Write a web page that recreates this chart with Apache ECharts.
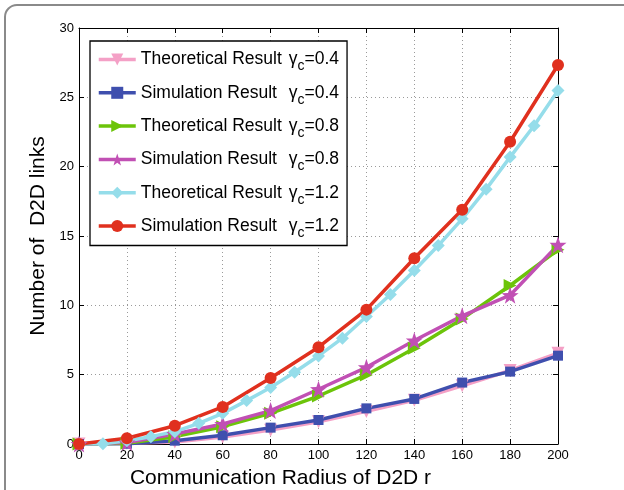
<!DOCTYPE html>
<html>
<head>
<meta charset="utf-8">
<script src="https://cdn.jsdelivr.net/npm/echarts@6/dist/echarts.min.js"></script>
<style>html,body{margin:0;padding:0;background:#fff}#c{width:624px;height:490px}</style>
</head>
<body>
<div id="c"></div>
<script>
const r20 = [0,20,40,60,80,100,120,140,160,180,200];
const r10 = [0,10,20,30,40,50,60,70,80,90,100,110,120,130,140,150,160,170,180,190,200];
const theo04 = [0,0.05,0.15,0.5,1.0,1.6,2.35,3.15,4.2,5.3,6.55];
const sim04 = [0,0.02,0.24,0.63,1.18,1.73,2.57,3.25,4.43,5.22,6.37];
const theo08 = [0,0.05,0.53,1.25,2.21,3.46,4.98,6.9,9.02,11.43,14.0];
const sim08 = [0,0.1,0.72,1.44,2.41,3.95,5.53,7.46,9.24,10.73,14.36];
const theo12 = [0,0.02,0.24,0.53,0.89,1.49,2.21,3.13,4.07,5.17,6.35,7.63,9.19,10.78,12.51,14.31,16.24,18.38,20.69,22.95,25.5];
const sim12 = [0,0.41,1.32,2.67,4.76,6.98,9.69,13.4,16.89,21.8,27.33];
const seriesNames = ['Theoretical Result|0.4','Simulation Result|0.4','Theoretical Result|0.8','Simulation Result|0.8','Theoretical Result|1.2','Simulation Result|1.2'];

const STAR = 'path://M0,-10 L2.35,-3.24 L9.51,-3.09 L3.8,1.24 L5.88,8.09 L0,4 L-5.88,8.09 L-3.8,1.24 L-9.51,-3.09 L-2.35,-3.24 Z';
const pair = (xs, ys) => xs.map((x, i) => [x, ys[i]]);
const font = 'Liberation Sans, Arial, sans-serif';

function mk(name, xs, ys, color, symbol, size, rot) {
  return {
    name, type: 'line', data: pair(xs, ys), xAxisIndex: 0, yAxisIndex: 0,
    symbol, symbolSize: size, symbolRotate: rot || 0, showAllSymbol: true,
    lineStyle: { color, width: 3.5 }, itemStyle: { color, borderWidth: 0 },
    emphasis: { disabled: true }, animation: false, z: 3
  };
}

const chart = echarts.init(document.getElementById('c'), null, { renderer: 'canvas' });
const option = {
  animation: false,
  textStyle: { fontFamily: font },
  grid: { left: 79, right: 66, top: 28, bottom: 46, containLabel: false, outerBoundsMode: 'none' },
  graphic: [{
    type: 'rect', shape: { x: 5, y: 5, width: 700, height: 600, r: 12 },
    style: { fill: 'none', stroke: '#8a8a8a', lineWidth: 2 }, silent: true
  }],
  legend: {
    orient: 'vertical', left: 90, top: 41,
    backgroundColor: '#fff', borderColor: '#000', borderWidth: 1.3,
    padding: [9.5, 8, 5.5, 7], itemGap: 10.3, itemWidth: 37, itemHeight: 15,
    lineStyle: { width: 3.5 },
    data: seriesNames,
    formatter: function (n) {
      const p = n.split('|');
      return '{a|' + p[0] + '}{g|γ}{s|c}{g|=' + p[1] + '}';
    },
    textStyle: {
      fontFamily: font, color: '#000',
      rich: {
        a: { fontSize: 17.5, width: 148, fontFamily: font, color: '#000' },
        g: { fontSize: 17.5, fontFamily: font, color: '#000' },
        s: { fontSize: 14, padding: [14, 0, 0, 0], fontFamily: font, color: '#000' }
      }
    }
  },
  xAxis: [{
    type: 'value', min: 0, max: 200, interval: 20,
    name: 'Communication Radius of D2D r', nameLocation: 'middle', nameGap: 24,
    nameTextStyle: { fontSize: 21, color: '#000', fontFamily: font, padding: [0, 76, 0, 0] },
    axisLine: { show: true, onZero: false, lineStyle: { color: '#000', width: 1 } },
    axisTick: { show: true, inside: true, length: 5, lineStyle: { color: '#000' } },
    axisLabel: { fontSize: 13, color: '#000', margin: 5, fontFamily: font },
    splitLine: { show: true, lineStyle: { color: '#9a9a9a', type: [1, 3], width: 1 } }
  }, {
    type: 'value', min: 0, max: 200, interval: 20, position: 'top',
    axisLine: { show: true, onZero: false, lineStyle: { color: '#000', width: 1 } },
    axisTick: { show: true, inside: true, length: 5, lineStyle: { color: '#000' } },
    axisLabel: { show: false }, splitLine: { show: false }
  }],
  yAxis: [{
    type: 'value', min: 0, max: 30, interval: 5,
    name: 'Number of  D2D links', nameLocation: 'middle', nameGap: 30,
    nameTextStyle: { fontSize: 21, color: '#000', fontFamily: font },
    axisLine: { show: true, onZero: false, lineStyle: { color: '#000', width: 1 } },
    axisTick: { show: true, inside: true, length: 5, lineStyle: { color: '#000' } },
    axisLabel: { fontSize: 13, color: '#000', margin: 5, fontFamily: font },
    splitLine: { show: true, lineStyle: { color: '#9a9a9a', type: [1, 3], width: 1 } }
  }, {
    type: 'value', min: 0, max: 30, interval: 5, position: 'right',
    axisLine: { show: true, onZero: false, lineStyle: { color: '#000', width: 1 } },
    axisTick: { show: true, inside: true, length: 5, lineStyle: { color: '#000' } },
    axisLabel: { show: false }, splitLine: { show: false }
  }],
  series: [
    mk(seriesNames[0], r20, theo04, '#F4A0C6', 'triangle', 13, 180),
    mk(seriesNames[1], r20, sim04, '#3F4FAE', 'rect', 10, 0),
    mk(seriesNames[2], r20, theo08, '#6CC40A', 'triangle', 13, -90),
    mk(seriesNames[3], r20, sim08, '#C150B4', STAR, 17, 0),
    mk(seriesNames[4], r10, theo12, '#95DDEA', 'diamond', 13, 0),
    mk(seriesNames[5], r20, sim12, '#E0301E', 'circle', 12, 0)
  ]
};
chart.setOption(option);
</script>
</body>
</html>
